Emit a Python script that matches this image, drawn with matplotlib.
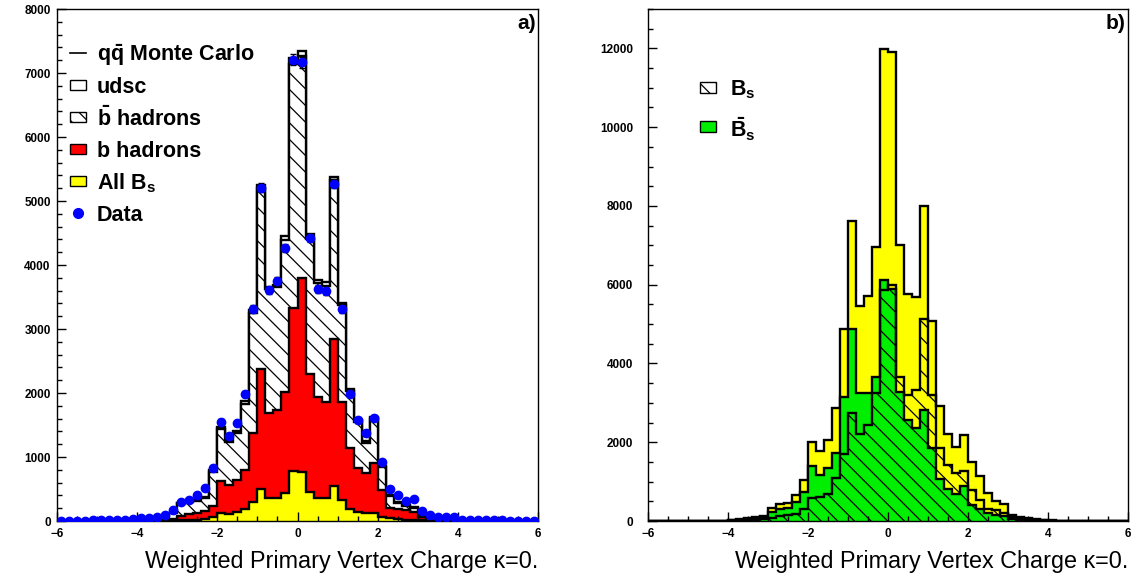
import numpy as np
import matplotlib
matplotlib.use("Agg")
import matplotlib.pyplot as plt
from matplotlib import rcParams, ticker
from matplotlib.patches import Rectangle
from matplotlib.lines import Line2D

rcParams["hatch.linewidth"] = 0.9
rcParams["mathtext.fontset"] = "custom"
rcParams["mathtext.rm"] = "Liberation Sans:bold"
rcParams["mathtext.bf"] = "Liberation Sans:bold"
rcParams["mathtext.it"] = "Liberation Sans:bold"

# 60 bins of width 0.2 from -6 to 6
edges = np.linspace(-6, 6, 61)

# ---- panel a) ----
mc_total = [2, 3, 3, 4, 5, 6, 8, 10, 12, 15,
            18, 25, 35, 50, 125, 286, 312, 330, 380, 790,
            1472, 1260, 1400, 1870, 3290, 5257, 3656, 3692, 4451, 7228,
            7348, 4488, 3770, 3734, 5372, 3411, 2070, 1576, 1248, 1628,
            860, 400, 300, 250, 220, 100, 60, 40, 30, 20,
            12, 8, 6, 5, 4, 3, 3, 2, 2, 1]
bbar_hadrons = [2, 3, 3, 4, 5, 6, 8, 10, 12, 14,
                17, 23, 32, 46, 118, 275, 300, 318, 365, 765,
                1440, 1230, 1370, 1830, 3250, 5200, 3620, 3650, 4384, 7140,
                7270, 4400, 3713, 3671, 5330, 3370, 2030, 1540, 1220, 1600,
                840, 385, 285, 235, 205, 92, 55, 36, 27, 18,
                11, 7, 5, 4, 3, 3, 2, 2, 1, 1]
b_hadrons = [0, 0, 0, 0, 0, 0, 0, 0, 2, 3,
             5, 8, 12, 20, 35, 80, 110, 130, 160, 230,
             630, 560, 635, 796, 1370, 2370, 1690, 1730, 2010, 3330,
             3796, 2295, 1940, 1865, 2850, 1862, 1134, 827, 750, 900,
             484, 208, 182, 172, 146, 60, 40, 30, 25, 20,
             5, 3, 2, 1, 0, 0, 0, 0, 0, 0]
all_bs = [0, 0, 0, 0, 0, 0, 0, 0, 0, 0,
          0, 2, 3, 4, 5, 10, 15, 20, 35, 55,
          125, 110, 135, 185, 300, 500, 360, 365, 445, 780,
          765, 450, 365, 355, 548, 330, 190, 140, 125, 120,
          55, 40, 30, 20, 15, 10, 5, 3, 2, 1,
          0, 0, 0, 0, 0, 0, 0, 0, 0, 0]
data = [3, 4, 5, 6, 8, 10, 12, 15, 18, 25,
        40, 45, 60, 100, 175, 300, 325, 400, 515, 822,
        1550, 1331, 1524, 1981, 3313, 5205, 3604, 3749, 4269, 7207,
        7166, 4420, 3625, 3599, 5268, 3307, 1992, 1576, 1378, 1617,
        915, 499, 400, 317, 340, 160, 94, 68, 64, 66,
        16, 14, 12, 10, 9, 8, 7, 6, 5, 5]

# ---- panel b) ----
bs_sum = [0, 0, 0, 0, 0, 2, 3, 5, 8, 12,
          25, 42, 68, 110, 136, 322, 432, 466, 661, 1042,
          2016, 1787, 2058, 2863, 4871, 7624, 5464, 5718, 6946, 11995,
          11900, 6997, 5769, 5676, 7988, 5066, 2922, 2220, 1890, 2195,
          1508, 1144, 720, 517, 424, 152, 93, 68, 45, 30,
          20, 12, 8, 5, 3, 2, 1, 0, 0, 0]
bsbar = [0, 0, 0, 0, 0, 1, 2, 3, 5, 8,
         15, 30, 50, 80, 93, 237, 297, 322, 491, 745,
         1398, 1169, 1338, 1720, 3160, 4871, 3245, 3245, 3668, 6108,
         5902, 3287, 2567, 2355, 2821, 1864, 1075, 805, 695, 900,
         400, 300, 200, 150, 120, 50, 30, 20, 10, 5,
         3, 2, 1, 0, 0, 0, 0, 0, 0, 0]
bs = [0, 0, 0, 0, 0, 1, 1, 2, 3, 4,
      8, 12, 18, 30, 43, 85, 135, 144, 170, 297,
      580, 600, 680, 1100, 1700, 2753, 2203, 2440, 3245, 5870,
      5998, 3668, 3202, 3321, 5125, 3202, 1847, 1423, 1211, 1280,
      788, 534, 297, 282, 195, 110, 60, 45, 30, 20,
      12, 8, 5, 3, 2, 1, 0, 0, 0, 0]

HATCH = "\\\\"
LW = 1.7
tick_font = ["Liberation Sans Narrow", "Liberation Sans", "DejaVu Sans"]


def style_axes(ax, ymax, ymajor, yminor, ypad):
    ax.set_xlim(-6, 6)
    ax.set_ylim(0, ymax)
    ax.xaxis.set_major_locator(ticker.MultipleLocator(2))
    ax.xaxis.set_minor_locator(ticker.MultipleLocator(0.5))
    ax.yaxis.set_major_locator(ticker.MultipleLocator(ymajor))
    ax.yaxis.set_minor_locator(ticker.MultipleLocator(yminor))
    ax.xaxis.set_major_formatter(ticker.FuncFormatter(lambda v, p: f"{v:.0f}".replace("-", "\u2212")))
    ax.tick_params(which="both", direction="in", top=False, right=False, width=1.0)
    ax.tick_params(which="major", length=6.5)
    ax.tick_params(which="minor", length=3.5)
    ax.tick_params(axis="x", pad=5)
    ax.tick_params(axis="y", pad=ypad)
    for lbl in ax.get_xticklabels() + ax.get_yticklabels():
        lbl.set_fontfamily(tick_font)
        lbl.set_fontweight("bold")
        lbl.set_fontsize(8.5)
    for sp in ax.spines.values():
        sp.set_linewidth(1.0)
    ax.set_xlabel("Weighted Primary Vertex Charge \u03ba=0.", loc="right",
                  fontsize=16.8, family="Liberation Sans", labelpad=7)


def legend_rows(ax, entries, x0, y0, dy, xtext):
    w, h = 0.033, 0.021
    for i, (kind, style, label) in enumerate(entries):
        y = y0 - i * dy
        if kind == "box":
            ax.add_patch(Rectangle((x0, y - h / 2), w, h, transform=ax.transAxes,
                                   lw=1.0, edgecolor="black", clip_on=False, **style))
        elif kind == "line":
            ax.add_line(Line2D([x0, x0 + w], [y, y], transform=ax.transAxes,
                               color="black", lw=1.2))
        else:
            ax.add_line(Line2D([x0 + w / 2], [y], transform=ax.transAxes,
                               marker="o", ms=7, color="blue", lw=0))
        ax.text(xtext, y - 0.004, label, transform=ax.transAxes, fontsize=15.5,
                family="Liberation Sans", weight="bold", va="center", ha="left")


fig = plt.figure(figsize=(11.31, 5.79), dpi=100)
ax1 = fig.add_axes([57 / 1131, 1 - 521 / 579, 481 / 1131, 512 / 579])
ax2 = fig.add_axes([648.3 / 1131, 1 - 521 / 579, 480 / 1131, 512 / 579])

# panel a
ax1.stairs(mc_total, edges, fill=True, facecolor="white", edgecolor="black", lw=LW)
ax1.stairs(bbar_hadrons, edges, fill=True, facecolor="white", edgecolor="black", hatch=HATCH, lw=LW)
ax1.stairs(b_hadrons, edges, fill=True, facecolor="red", edgecolor="black", lw=LW)
ax1.stairs(all_bs, edges, fill=True, facecolor="yellow", edgecolor="black", lw=LW)
centres = 0.5 * (edges[:-1] + edges[1:])
data = np.array(data)
ax1.errorbar(centres, data, yerr=np.sqrt(data), fmt="o", ms=6, color="blue",
             ecolor="black", elinewidth=1.0, capsize=2, zorder=5)
style_axes(ax1, 8000, 1000, 200, 4.5)
ax1.text(0.995, 0.972, "a)", transform=ax1.transAxes, ha="right", va="center",
         fontsize=15, weight="bold", family="Liberation Sans")
legend_rows(ax1, [
    ("line", {}, r"$q\bar{q}$ Monte Carlo"),
    ("box", {"facecolor": "white"}, "udsc"),
    ("box", {"facecolor": "white", "hatch": HATCH}, r"$\bar{b}$ hadrons"),
    ("box", {"facecolor": "red"}, "b hadrons"),
    ("box", {"facecolor": "yellow"}, r"All B$_{s}$"),
    ("dot", {}, "Data"),
], 0.027, 0.914, 0.0625, 0.083)

# panel b
ax2.stairs(bs_sum, edges, fill=True, facecolor="yellow", edgecolor="black", lw=LW)
ax2.stairs(bsbar, edges, fill=True, facecolor="#00ee00", edgecolor="black", lw=LW)
ax2.stairs(bs, edges, fill=True, facecolor="none", edgecolor="black", hatch=HATCH, lw=LW)
style_axes(ax2, 13000, 2000, 500, 11)
ax2.text(0.995, 0.972, "b)", transform=ax2.transAxes, ha="right", va="center",
         fontsize=15, weight="bold", family="Liberation Sans")
legend_rows(ax2, [
    ("box", {"facecolor": "white", "hatch": HATCH}, r"B$_{s}$"),
    ("box", {"facecolor": "#00ee00"}, r"$\bar{B}_{s}$"),
], 0.108, 0.846, 0.076, 0.171)

fig.savefig("out.png", dpi=100)
